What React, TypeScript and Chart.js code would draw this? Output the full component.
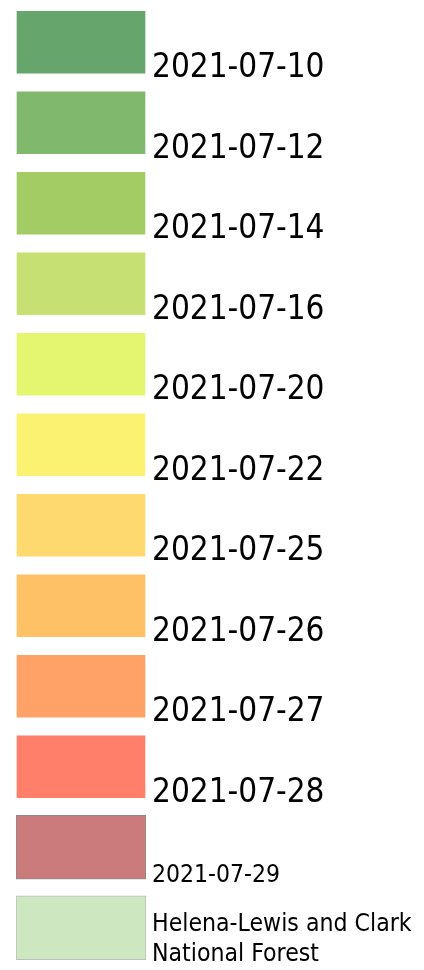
import React, { useEffect, useRef } from "react";
import { Chart, registerables } from "chart.js";

Chart.register(...registerables);

const categories: string[] = [
  "2021-07-10",
  "2021-07-12",
  "2021-07-14",
  "2021-07-16",
  "2021-07-20",
  "2021-07-22",
  "2021-07-25",
  "2021-07-26",
  "2021-07-27",
  "2021-07-28",
  "2021-07-29",
  "Helena-Lewis and Clark National Forest",
];

const fillColors: string[] = [
  "#66a56b",
  "#80b86e",
  "#a3cc64",
  "#c6e073",
  "#e4f56f",
  "#faf270",
  "#fdd96f",
  "#fec166",
  "#fea268",
  "#ff7f6a",
  "#cc7b7c",
  "#cde8c0",
];

const borderColors: string[] = [
  "rgba(255,255,255,0.45)",
  "rgba(255,255,255,0.45)",
  "rgba(255,255,255,0.45)",
  "rgba(255,255,255,0.45)",
  "rgba(255,255,255,0.45)",
  "rgba(255,255,255,0.45)",
  "rgba(255,255,255,0.45)",
  "rgba(255,255,255,0.45)",
  "rgba(255,255,255,0.45)",
  "rgba(255,255,255,0.45)",
  "#8a8a8a",
  "#bdbdbd",
];

// each swatch spans the full legend box (0 → 1)
const swatchSpan: [number, number][] = categories.map(() => [0, 1]);

const FONT_FAMILY = "'DejaVu Sans Condensed', 'DejaVu Sans', sans-serif";

export default function App() {
  const ref = useRef<HTMLCanvasElement | null>(null);

  useEffect(() => {
    if (!ref.current) return;
    const labels = categories.map((c, i) =>
      i === categories.length - 1
        ? ["Helena-Lewis and Clark", "National Forest"]
        : ["", c]
    );
    const chart = new Chart(ref.current, {
      type: "bar",
      data: {
        labels,
        datasets: [
          {
            data: swatchSpan as any,
            backgroundColor: fillColors,
            borderColor: borderColors,
            borderWidth: 1,
            borderSkipped: false,
            barThickness: 64,
          },
        ],
      },
      options: {
        indexAxis: "y",
        responsive: false,
        animation: false,
        layout: { padding: { left: 16, top: 2, bottom: 2, right: 0 } },
        plugins: {
          legend: { display: false },
          tooltip: { enabled: false },
        },
        scales: {
          x: { display: false, min: 0, max: 1 },
          y: {
            position: "right",
            grid: { display: false, drawTicks: false },
            border: { display: false },
            afterFit: (scale: any) => {
              scale.width = 278;
              scale.paddingTop = 0;
              scale.paddingBottom = 0;
            },
            ticks: {
              autoSkip: false,
              padding: 6,
              labelOffset: 12,
              color: "#000",
              font: (ctx: any) => {
                const i = ctx.index;
                if (i === categories.length - 1)
                  return { family: FONT_FAMILY, size: 24.6, lineHeight: "30.5px" };
                if (i === categories.length - 2)
                  return { family: FONT_FAMILY, size: 24.5, lineHeight: "33.4px" };
                return { family: FONT_FAMILY, size: 33, lineHeight: "29px" };
              },
            },
          },
        },
      },
    });
    return () => chart.destroy();
  }, []);

  return (
    <div style={{ position: "absolute", left: 0, top: 0, width: 424, height: 970, background: "#fff" }}>
      <canvas ref={ref} width={424} height={970} style={{ display: "block" }} />
    </div>
  );
}
